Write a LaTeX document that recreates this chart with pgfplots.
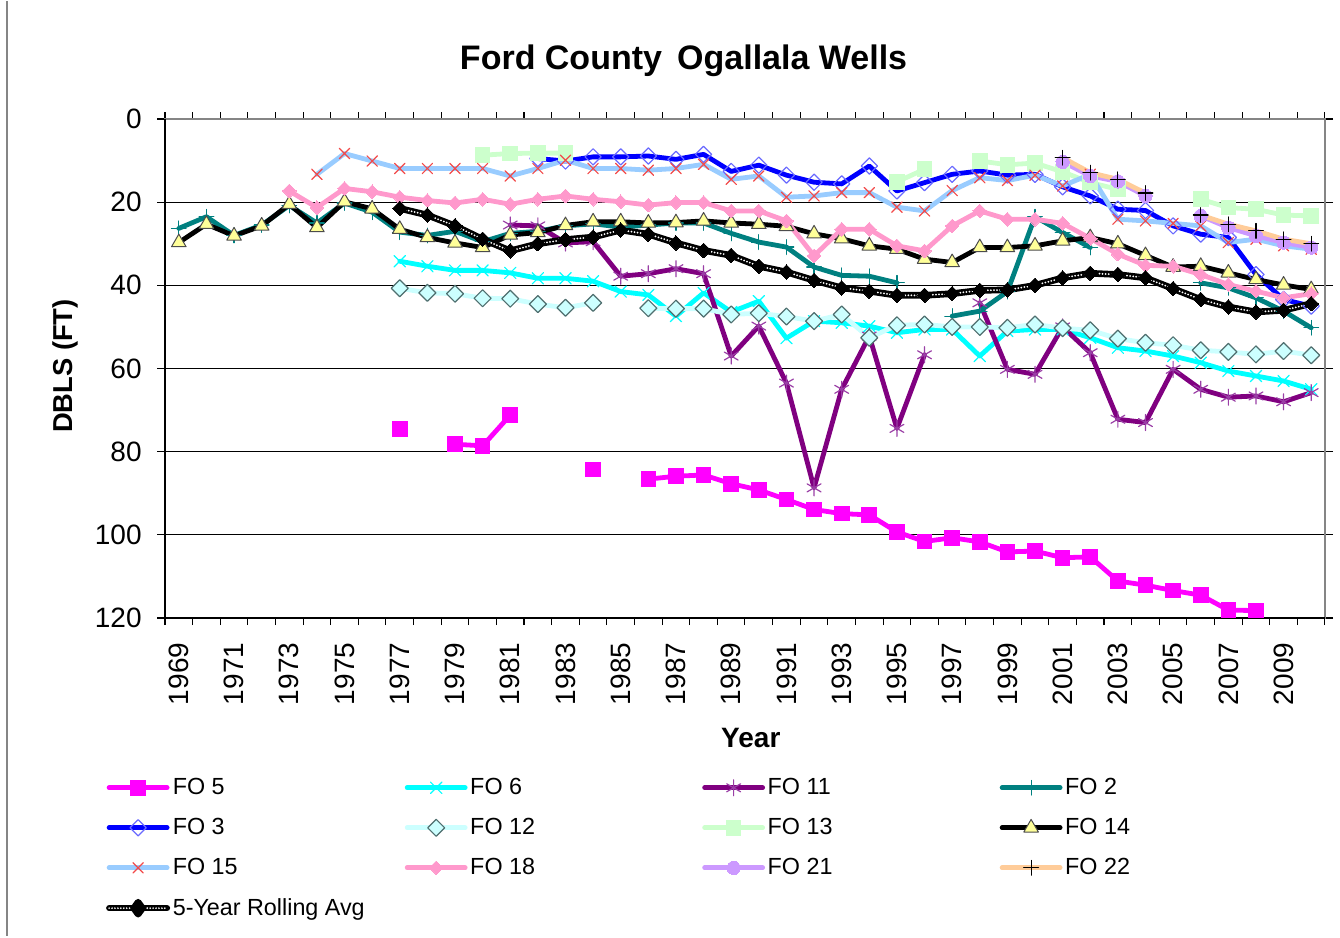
\documentclass[border=0pt]{standalone}
\usepackage{fontspec}
\setmainfont{Liberation Sans}
\usepackage{pgfplots}
\usepackage{pgfplotstable}
\pgfplotsset{compat=1.18}

\definecolor{cfo5}{HTML}{FF00FF}
\definecolor{cfo6}{HTML}{00FFFF}
\definecolor{cfo11}{HTML}{800080}
\definecolor{cfo11m}{HTML}{9A3FA6}
\definecolor{cfo2}{HTML}{008080}
\definecolor{cfo3}{HTML}{0000FF}
\definecolor{cfo3m}{HTML}{6A6AFF}
\definecolor{cfo12}{HTML}{CCFFFF}
\definecolor{cfo12e}{HTML}{4F6F6F}
\definecolor{cfo13}{HTML}{CCFFCC}
\definecolor{cfo14m}{HTML}{FFFF99}
\definecolor{cfo15}{HTML}{99CCFF}
\definecolor{cfo15m}{HTML}{F24A4A}
\definecolor{cfo18}{HTML}{FF99CC}
\definecolor{cfo21}{HTML}{CC99FF}
\definecolor{cfo22}{HTML}{FFCC99}
\definecolor{frame}{HTML}{858585}

% depth to water (ft) by year, nan = no reading
\pgfplotstableread{
year fo5 fo6 fo11 fo2 fo3 fo12 fo13 fo14 fo15 fo18 fo21 fo22 avg
1969 nan nan nan 26.3 nan nan nan 29.7 nan nan nan nan nan
1970 nan nan nan 23.5 nan nan nan 25.3 nan nan nan nan nan
1971 nan nan nan 28.0 nan nan nan 28.1 nan nan nan nan nan
1972 nan nan nan 25.5 nan nan nan 25.7 nan nan nan nan nan
1973 nan nan nan 20.8 nan nan nan 20.5 nan 17.3 nan nan nan
1974 nan nan nan 25.0 nan nan nan 26.1 13.3 21.3 nan nan nan
1975 nan nan nan 20.2 nan nan nan 19.9 8.3 16.7 nan nan nan
1976 nan nan nan 22.4 nan nan nan 21.6 10.1 17.5 nan nan nan
1977 74.6 34.2 nan 27.2 nan 40.7 nan 26.5 11.9 18.8 nan nan 21.5
1978 nan 35.4 nan 28.0 nan 41.8 nan 28.5 11.9 19.6 nan nan 23.1
1979 78.2 36.4 nan 27.0 nan 42.0 nan 29.8 11.9 20.2 nan nan 25.7
1980 78.6 36.4 nan 29.5 nan 43.1 8.7 30.9 11.9 19.3 nan nan 28.9
1981 71.2 37.0 25.5 27.5 nan 43.2 8.3 27.9 13.7 20.5 nan nan 31.7
1982 nan 38.3 25.7 27.0 9.5 44.5 8.2 27.3 11.9 19.3 nan nan 30.0
1983 nan 38.3 29.8 25.7 10.1 45.4 8.2 25.6 9.9 18.5 nan nan 29.0
1984 84.3 39.0 29.5 25.2 9.1 44.2 nan 24.7 11.9 19.3 nan nan 28.4
1985 nan 41.5 37.8 26.0 9.1 nan nan 24.7 11.9 19.9 nan nan 26.7
1986 86.6 42.3 37.2 25.5 8.9 45.5 nan 25.0 12.3 20.7 nan nan 27.7
1987 85.9 47.4 36.0 25.0 9.7 45.6 nan 24.9 11.9 20.1 nan nan 29.8
1988 85.6 41.8 37.2 25.0 8.5 45.6 nan 24.5 10.9 20.1 nan nan 31.6
1989 87.7 46.4 57.0 27.5 12.6 47.0 nan 25.0 14.5 22.1 nan nan 32.8
1990 89.2 43.8 49.8 29.6 11.1 46.7 nan 25.3 13.7 22.1 nan nan 35.4
1991 91.5 52.7 63.5 30.8 13.5 47.5 nan 25.8 18.8 24.5 nan nan 36.8
1992 93.9 48.6 88.7 35.6 15.2 48.6 nan 27.6 18.5 32.9 nan nan 38.8
1993 94.9 49.0 65.0 37.6 15.6 47.0 nan 28.8 17.7 26.5 nan nan 40.6
1994 95.2 49.8 52.2 37.8 11.3 52.6 nan 30.5 17.7 26.5 nan nan 41.4
1995 99.3 51.4 74.4 39.4 17.3 49.6 15.1 31.3 21.2 30.5 nan nan 42.4
1996 101.6 50.6 56.7 nan 15.3 49.4 12.1 33.7 22.1 31.7 nan nan 42.4
1997 100.7 50.6 nan 47.4 13.3 50.0 nan 34.5 17.2 25.7 nan nan 42.0
1998 101.7 57.0 44.2 46.2 12.5 50.0 10.1 30.9 14.1 22.1 nan nan 41.2
1999 104.1 51.0 60.2 41.5 13.5 50.2 11.0 30.9 14.8 24.1 nan nan 41.1
2000 103.9 50.6 61.4 23.5 13.3 49.4 10.6 30.5 13.5 24.1 nan nan 40.0
2001 105.5 50.6 50.0 27.3 16.3 50.3 12.7 29.3 16.1 25.1 10.3 9.3 38.2
2002 105.3 52.6 56.2 30.9 18.5 50.8 15.3 28.5 13.3 28.7 13.7 12.9 37.1
2003 111.1 55.0 72.2 nan 21.7 52.8 16.9 30.0 24.1 32.5 15.0 14.5 37.4
2004 112.1 55.8 73.0 nan 22.0 53.8 nan 32.8 24.5 35.2 18.5 17.8 38.2
2005 113.4 57.0 60.2 nan 25.7 54.4 nan 35.6 25.1 35.4 nan nan 40.8
2006 114.5 58.6 65.0 39.4 27.7 55.6 19.3 35.4 25.7 37.4 23.3 23.1 43.4
2007 118.1 60.6 66.9 40.6 28.5 56.0 21.3 37.0 29.7 39.8 26.1 25.3 45.2
2008 118.2 61.8 66.6 43.0 37.4 56.6 21.7 38.6 28.9 41.4 28.1 26.9 46.4
2009 nan 63.0 68.0 46.2 43.4 55.8 23.1 39.9 30.5 43.0 29.7 28.9 46.0
2010 nan 65.0 65.8 50.2 45.0 56.8 23.3 41.0 31.3 42.0 30.9 30.0 44.4
}\wells

\newcommand{\legtext}[1]{\makebox[176pt][l]{\hspace{2pt}#1}}

\begin{document}
\begin{tikzpicture}
\begin{axis}[
  scale only axis, width=870pt, height=374.25pt,
  xmin=1968.5, xmax=2010.5, ymin=0, ymax=120, y dir=reverse,
  clip=false, unbounded coords=jump,
  axis line style={frame, line width=1.4pt},
  xtick={1969,1971,...,2009},
  minor xtick={1968.5,1969.5,...,2010.5},
  ytick={0,20,...,120},
  tick align=outside,
  major tick length=6pt, minor tick length=5.25pt,
  major x tick style={draw=none},
  minor x tick style={black, line width=0.8pt},
  major y tick style={black, line width=0.8pt},
  ymajorgrids, major y grid style={black, line width=0.8pt},
  /pgf/number format/assume math mode=true,
  /pgf/number format/1000 sep={},
  xticklabel style={rotate=90, anchor=east, font=\fontsize{21}{24}\selectfont},
  yticklabel style={font=\fontsize{21}{24}\selectfont},
  xticklabel shift=9pt, yticklabel shift=8pt,
  every axis plot/.append style={line join=round, line cap=round},
  legend columns=4,
  legend cell align=left,
  legend style={at={(axis description cs:-0.051,-0.316)}, anchor=north west,
    draw=none, fill=none, inner sep=0pt, row sep=12.3pt,
    font=\fontsize{17.5}{21}\selectfont,
    nodes={inner xsep=0pt, inner ysep=2pt}},
  legend image code/.code={%
    \draw[mark repeat=2, mark phase=2, #1]
      plot coordinates {(0pt,0pt) (21.75pt,0pt) (43.5pt,0pt)};},
]
\addplot[cfo5, line width=3.6pt, mark=square*, mark size=5.5pt,
  mark options={solid, line width=0pt, fill=cfo5}] table[x=year, y=fo5] {\wells};
\addlegendentry{\legtext{FO 5}}
\addplot[cfo6, line width=3.6pt, mark=x, mark size=6pt,
  mark options={solid, line width=0.9pt}] table[x=year, y=fo6] {\wells};
\addlegendentry{\legtext{FO 6}}
\addplot[cfo11, line width=3.6pt, mark=asterisk, mark size=6pt,
  mark options={solid, draw=cfo11m, line width=0.9pt}] table[x=year, y=fo11] {\wells};
\addlegendentry{\legtext{FO 11}}
\addplot[cfo2, line width=3.6pt, mark=+, mark size=5.5pt,
  mark options={solid, line width=0.9pt}] table[x=year, y=fo2] {\wells};
\addlegendentry{\legtext{FO 2}}
\addplot[cfo3, line width=3.6pt, mark=square, mark size=4.3pt,
  mark options={solid, rotate=45, draw=cfo3m, fill=none, line width=0.9pt}] table[x=year, y=fo3] {\wells};
\addlegendentry{\legtext{FO 3}}
\addplot[cfo12, line width=3.6pt, mark=square*, mark size=4.5pt,
  mark options={solid, rotate=45, draw=cfo12e, fill=cfo12, line width=0.9pt}] table[x=year, y=fo12] {\wells};
\addlegendentry{\legtext{FO 12}}
\addplot[cfo13, line width=3.6pt, mark=square*, mark size=5.5pt,
  mark options={solid, line width=0pt, fill=cfo13}] table[x=year, y=fo13] {\wells};
\addlegendentry{\legtext{FO 13}}
\addplot[black, line width=3.6pt, mark=triangle*, mark size=6.3pt,
  mark options={solid, draw=black!70, fill=cfo14m, line width=0.75pt}] table[x=year, y=fo14] {\wells};
\addlegendentry{\legtext{FO 14}}
\addplot[cfo15, line width=3.6pt, mark=x, mark size=5.5pt,
  mark options={solid, draw=cfo15m, line width=0.9pt}] table[x=year, y=fo15] {\wells};
\addlegendentry{\legtext{FO 15}}
\addplot[cfo18, line width=3.6pt, mark=square*, mark size=3.6pt,
  mark options={solid, rotate=45, fill=cfo18, line width=0pt}] table[x=year, y=fo18] {\wells};
\addlegendentry{\legtext{FO 18}}
\addplot[cfo21, line width=3.6pt, mark=*, mark size=5pt,
  mark options={solid, fill=cfo21, line width=0pt}] table[x=year, y=fo21] {\wells};
\addlegendentry{\legtext{FO 21}}
\addplot[cfo22, line width=3.6pt, mark=+, mark size=5.5pt,
  mark options={solid, draw=black, line width=0.9pt}] table[x=year, y=fo22] {\wells};
\addlegendentry{\legtext{FO 22}}
\addplot[black, line width=5pt, mark=square*, mark size=3.8pt,
  mark options={solid, rotate=45, fill=black, line width=0pt},
  legend image code/.code={%
    \draw[black, line width=4.5pt] (0pt,0pt) -- (43.5pt,0pt);
    \draw[white, line width=1.4pt, dash pattern=on 0pt off 2.2pt, line cap=round]
      (0pt,0pt) -- (43.5pt,0pt);
    \fill[black] (21.75pt,4.5pt) -- (25pt,0pt) -- (21.75pt,-4.5pt) -- (18.5pt,0pt) -- cycle;}]
  table[x=year, y=avg] {\wells};
\addlegendentry{\hspace{2pt}5-Year Rolling Avg}
\addplot[forget plot, white, line width=1.5pt, dash pattern=on 0pt off 2.3pt,
  line cap=round] table[x=year, y=avg] {\wells};
\addplot[forget plot, only marks, mark=square*, mark size=3.8pt,
  mark options={rotate=45, fill=black, draw=black, line width=0pt}] table[x=year, y=avg] {\wells};

% plot area edges: left and bottom black, rest grey
\draw[black, line width=1.4pt] (axis description cs:0,1) -- (axis description cs:0,0)
  -- (axis description cs:1,0);

\node[font=\bfseries\fontsize{25.5}{30}\selectfont] at (axis description cs:0.447,1.116)
  {Ford County\, Ogallala Wells};
\node[font=\bfseries\fontsize{20.5}{24}\selectfont, rotate=90] at (axis description cs:-0.0862,0.505)
  {DBLS (FT)};
\node[font=\bfseries\fontsize{21}{25}\selectfont] at (axis description cs:0.505,-0.2405) {Year};

\draw[frame, line width=1.5pt] (axis description cs:-0.1362,1.2365) -- (axis description cs:-0.1362,-0.6373);
\path (axis description cs:-0.14224,-0.6373) rectangle (axis description cs:1.01293,1.2365);
\end{axis}
\end{tikzpicture}
\end{document}
